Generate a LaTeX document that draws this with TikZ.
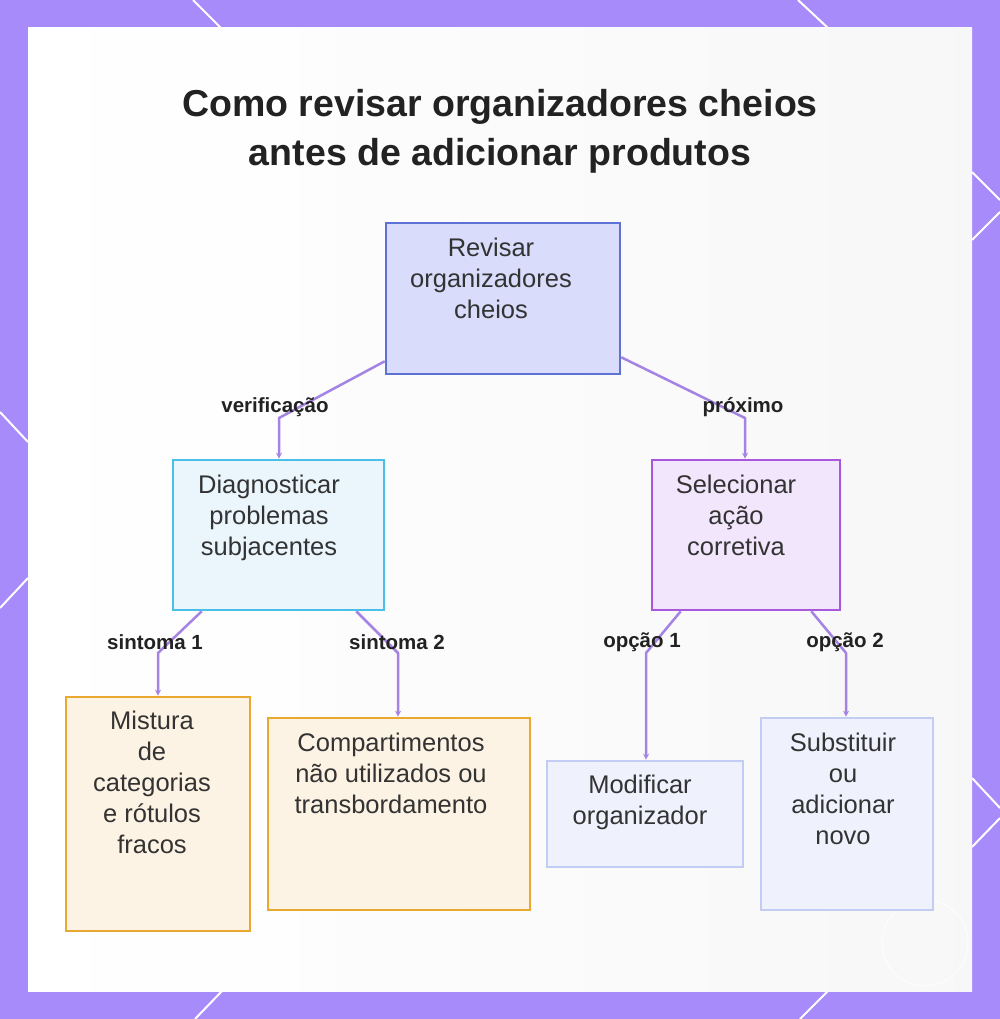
\documentclass[tikz,border=0pt]{standalone}
\usepackage{fontspec}
\setmainfont{Liberation Sans}
\usetikzlibrary{arrows.meta,calc}
\definecolor{frame}{HTML}{A78BFA}
\definecolor{conn}{HTML}{A583E4}
\definecolor{txt}{HTML}{333333}
\definecolor{ttl}{HTML}{222222}
\definecolor{rootF}{HTML}{D9DCFB}\definecolor{rootD}{HTML}{5E72D4}
\definecolor{diagF}{HTML}{EAF6FC}\definecolor{diagD}{HTML}{4ABFE8}
\definecolor{selF}{HTML}{F2E6FC}\definecolor{selD}{HTML}{A958DD}
\definecolor{orF}{HTML}{FDF3E4}\definecolor{orD}{HTML}{E9A830}
\definecolor{ltF}{HTML}{EFF2FD}\definecolor{ltD}{HTML}{C3CDF4}
\tikzset{
  boxnode/.style={draw, line width=2.6pt, rectangle, inner sep=0pt},
  boxtext/.style={align=center, text=txt, font=\fontsize{25.5}{31}\selectfont, anchor=north, inner sep=0pt},
  lbl/.style={font=\bfseries\fontsize{20.5}{22}\selectfont, text=ttl, inner sep=1pt},
  connline/.style={draw=conn, line width=2.5pt, line join=round, -{Stealth[length=6pt,width=6pt]}},
  deco/.style={draw=white, line width=2pt}
}
\begin{document}
\begin{tikzpicture}[x=1pt,y=-1pt]
\useasboundingbox (0,0) rectangle (1000,1019);
% frame
\fill[frame] (0,0) rectangle (1000,1019);
\draw[deco] (193,0) -- (221,28);
\draw[deco] (798,0) -- (828,28);
\draw[deco] (195,1019) -- (222,991);
\draw[deco] (800,1019) -- (828,991);
\draw[deco] (972,172) -- (1000,200);
\draw[deco] (1000,212) -- (972,240);
\draw[deco] (972,778) -- (1000,808);
\draw[deco] (1000,818) -- (972,847);
\draw[deco] (0,412) -- (28,442);
\draw[deco] (28,578) -- (0,608);
% inner background
\shade[left color=white, right color=black!3!white] (28,28) rectangle (972,991);
\fill[white, opacity=0.5] (28,28) rectangle (300,991);
\draw[white, line width=1pt, opacity=0.8] (925,943) circle (43);
% title
\node[font=\bfseries\fontsize{37.5}{49}\selectfont, text=ttl, align=center] (title) at (500,131) {Como revisar organizadores cheios\\antes de adicionar produtos};
% boxes
\node[boxnode, fill=rootF, draw=rootD, minimum width=234pt, minimum height=151pt] (root) at (503,298.5) {};
\node[boxtext] (rootT) at (491,238) {Revisar\\organizadores\\cheios};
\node[boxnode, fill=diagF, draw=diagD, minimum width=211pt, minimum height=150pt] (diag) at (278.5,535) {};
\node[boxtext] (diagT) at (269,475) {Diagnosticar\\problemas\\subjacentes};
\node[boxnode, fill=selF, draw=selD, minimum width=188pt, minimum height=150pt] (sel) at (746,535) {};
\node[boxtext] (selT) at (736,475) {Selecionar\\ação\\corretiva};
\node[boxnode, fill=orF, draw=orD, minimum width=184pt, minimum height=234pt] (mix) at (158,814) {};
\node[boxtext] (mixT) at (152,711) {Mistura\\de\\categorias\\e rótulos\\fracos};
\node[boxnode, fill=orF, draw=orD, minimum width=262pt, minimum height=192pt] (comp) at (399,814) {};
\node[boxtext] (compT) at (391,733) {Compartimentos\\não utilizados ou\\transbordamento};
\node[boxnode, fill=ltF, draw=ltD, minimum width=196pt, minimum height=106pt] (mod) at (645,814) {};
\node[boxtext] (modT) at (640,775) {Modificar\\organizador};
\node[boxnode, fill=ltF, draw=ltD, minimum width=172pt, minimum height=192pt] (sub) at (847,814) {};
\node[boxtext] (subT) at (843,733) {Substituir\\ou\\adicionar\\novo};
% connectors
\coordinate (b1) at (279,418);
\coordinate (b2) at (745,418);
\coordinate (b3) at (158,653);
\coordinate (b4) at (398,653);
\coordinate (b5) at (646,653);
\coordinate (b6) at (846,653);
\draw[connline] ([yshift=14pt]root.south west) -- (b1) -- (b1 |- diag.north);
\draw[connline] ([yshift=18pt]root.south east) -- (b2) -- (b2 |- sel.north);
\draw[connline] ([xshift=30pt]diag.south west) -- (b3) -- (b3 |- mix.north);
\draw[connline] ([xshift=-29pt]diag.south east) -- (b4) -- (b4 |- comp.north);
\draw[connline] ([xshift=30pt]sel.south west) -- (b5) -- (b5 |- mod.north);
\draw[connline] ([xshift=-30pt]sel.south east) -- (b6) -- (b6 |- sub.north);
% labels
\node[lbl] (l1) at (275,407) {verificação};
\node[lbl] (l2) at (743,407) {próximo};
\node[lbl] (l3) at (155,642) {sintoma 1};
\node[lbl] (l4) at (397,642) {sintoma 2};
\node[lbl] (l5) at (642,642) {opção 1};
\node[lbl] (l6) at (845,642) {opção 2};
\end{tikzpicture}
\end{document}
